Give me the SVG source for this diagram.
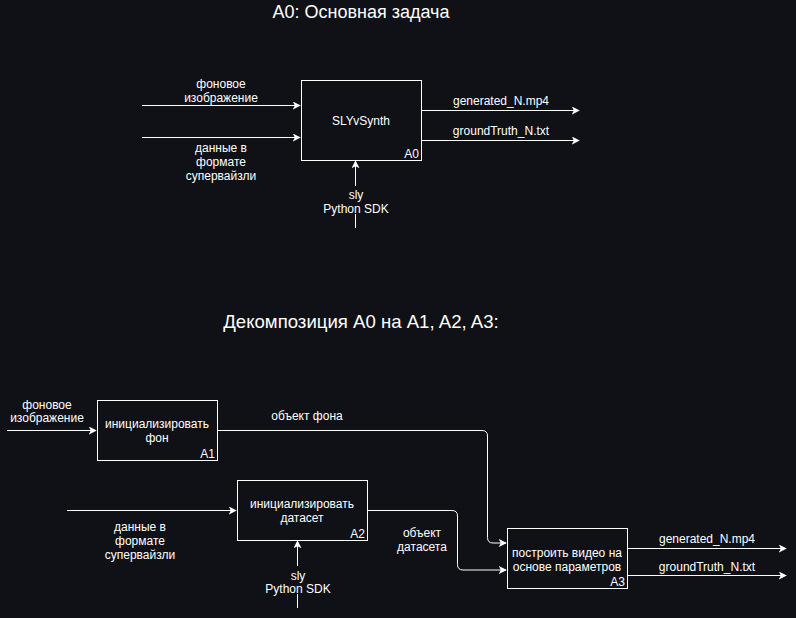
<svg xmlns="http://www.w3.org/2000/svg" width="796" height="618" viewBox="0 0 796 618">
<style>
text{font-family:"Liberation Sans",Arial,sans-serif;fill:#ffffff;font-size:12px;text-anchor:middle}
.title{font-size:18px}
.box{fill:none;stroke:#ffffff;stroke-width:1}
.c{fill:none;stroke:#ffffff;stroke-width:1}
.end{text-anchor:end}
</style>
<defs>
<marker id="arr" viewBox="0 0 10 10" refX="9" refY="5" markerWidth="8" markerHeight="8" markerUnits="userSpaceOnUse" orient="auto">
<path d="M0,0 L10,5 L0,10 L2.5,5 Z" fill="#ffffff"/>
</marker>
</defs>
<rect width="796" height="618" fill="#0f1116"/>
<text class="title" x="361" y="18">A0: Основная задача</text>
<text class="title" x="361" y="328" style="font-size:18.6px">Декомпозиция A0 на A1, A2, A3:</text>

<g id="connectors">
<path class="c" d="M142,105.5 H300" marker-end="url(#arr)"/>
<path class="c" d="M142,137.5 H300" marker-end="url(#arr)"/>
<path class="c" d="M421,110.5 H579" marker-end="url(#arr)"/>
<path class="c" d="M421,140.5 H579" marker-end="url(#arr)"/>
<path class="c" d="M355.5,228 V214 M355.5,186 V161" marker-end="url(#arr)"/>
<path class="c" d="M7,430.5 H96" marker-end="url(#arr)"/>
<path class="c" d="M217,430.5 H482 Q487.5,430.5 487.5,436 V537.5 Q487.5,543 493,543 H506" marker-end="url(#arr)"/>
<path class="c" d="M67,510.5 H236" marker-end="url(#arr)"/>
<path class="c" d="M367,510.5 H452 Q457.5,510.5 457.5,516 V564.5 Q457.5,570 463,570 H506" marker-end="url(#arr)"/>
<path class="c" d="M297.5,608 V594 M297.5,566 V541" marker-end="url(#arr)"/>
<path class="c" d="M627,548.5 H786" marker-end="url(#arr)"/>
<path class="c" d="M627,575.5 H786" marker-end="url(#arr)"/>
</g>

<g id="labels">
<text x="221" y="88">фоновое</text>
<text x="221" y="102">изображение</text>
<text x="221" y="152">данные в</text>
<text x="221" y="166">формате</text>
<text x="221" y="180">супервайзли</text>
<text x="501" y="105">generated_N.mp4</text>
<text x="501" y="135">groundTruth_N.txt</text>
<text x="356" y="199">sly</text>
<text x="356" y="213">Python SDK</text>
<text x="47" y="409">фоновое</text>
<text x="47" y="422">изображение</text>
<text x="307" y="420">объект фона</text>
<text x="140" y="531">данные в</text>
<text x="140" y="545">формате</text>
<text x="140" y="559">супервайзли</text>
<text x="298" y="580">sly</text>
<text x="298" y="593">Python SDK</text>
<text x="422" y="537">объект</text>
<text x="422" y="551">датасета</text>
<text x="707" y="543">generated_N.mp4</text>
<text x="707" y="571">groundTruth_N.txt</text>
</g>

<g id="A0">
<rect class="box" x="301.5" y="80.5" width="120" height="80"/>
<text x="361" y="125">SLYvSynth</text>
<text class="end" x="419" y="158">A0</text>
</g>
<g id="A1">
<rect class="box" x="97.5" y="400.5" width="120" height="60"/>
<text x="157" y="428">инициализировать</text>
<text x="157" y="442">фон</text>
<text class="end" x="215" y="458">A1</text>
</g>
<g id="A2">
<rect class="box" x="237.5" y="480.5" width="130" height="60"/>
<text x="302" y="508">инициализировать</text>
<text x="302" y="522">датасет</text>
<text class="end" x="365" y="538">A2</text>
</g>
<g id="A3">
<rect class="box" x="507.5" y="528.5" width="120" height="60"/>
<text x="567" y="557">построить видео на</text>
<text x="567" y="571">основе параметров</text>
<text class="end" x="625" y="586">A3</text>
</g>
</svg>
